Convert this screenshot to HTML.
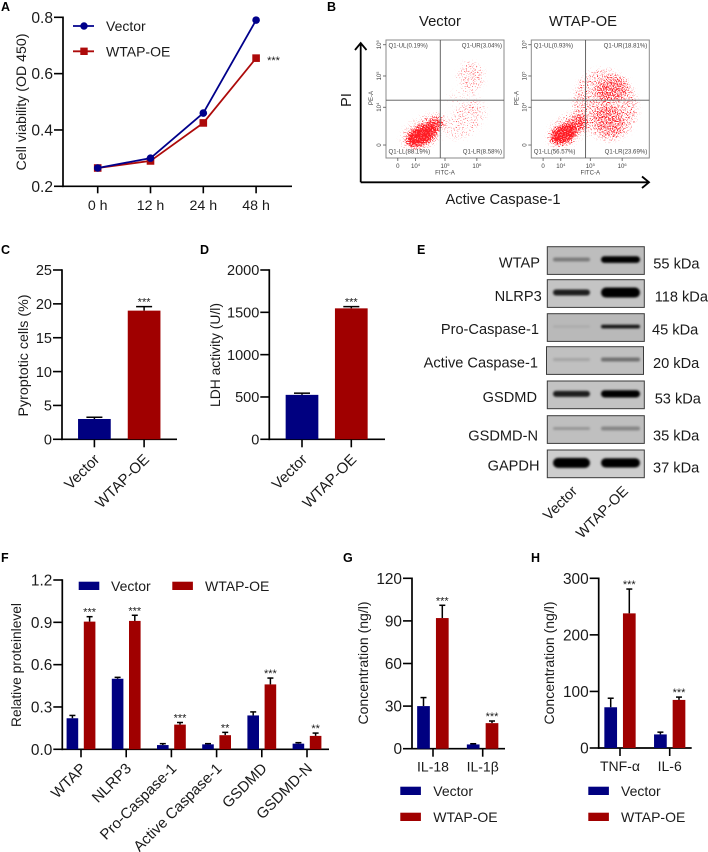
<!DOCTYPE html>
<html lang="en">
<head>
<meta charset="utf-8">
<title>WTAP-OE figure</title>
<style>
html,body{margin:0;padding:0;background:#fff}
svg{display:block}
text{font-family:"Liberation Sans",Arial,sans-serif;fill:#1a1a1a}
.letter{font-weight:bold;font-size:12.5px;fill:#000}
.title{font-size:14px}
.tiny{font-size:6.1px;fill:#444}
</style>
</head>
<body>
<svg id="fig" xmlns="http://www.w3.org/2000/svg" width="708" height="852" viewBox="0 0 708 852">
<defs>
<filter id="speckle" x="0" y="0" width="100%" height="100%" color-interpolation-filters="sRGB">
<feGaussianBlur in="SourceAlpha" stdDeviation="2.6" result="d"/>
<feTurbulence type="fractalNoise" baseFrequency="0.8" numOctaves="2" seed="7" result="t"/>
<feColorMatrix in="t" type="matrix" values="0 0 0 0 0  0 0 0 0 0  0 0 0 0 0  2.2 0 0 0 -0.55" result="n"/>
<feComposite in="d" in2="n" operator="arithmetic" k1="0" k2="1" k3="1" k4="-1" result="m"/>
<feComponentTransfer in="m" result="a"><feFuncA type="linear" slope="3.2"/></feComponentTransfer>
<feFlood flood-color="#ff1c24"/>
<feComposite in2="a" operator="in"/>
</filter>
<filter id="band-blur" x="-30%" y="-150%" width="160%" height="400%"><feGaussianBlur stdDeviation="1.1"/></filter>
<clipPath id="flow-clip-left"><rect x="386" y="40" width="118" height="118"/></clipPath>
<clipPath id="flow-clip-right"><rect x="531.3" y="40" width="118" height="118"/></clipPath>
</defs>

<text class="letter" x="1" y="11">A</text>
<text class="letter" x="327" y="11">B</text>
<text class="letter" x="1" y="254">C</text>
<text class="letter" x="200" y="254">D</text>
<text class="letter" x="417" y="254">E</text>
<text class="letter" x="1" y="562">F</text>
<text class="letter" x="343" y="562">G</text>
<text class="letter" x="531" y="562">H</text>

<text class="title" transform="translate(26 102) rotate(-90)" text-anchor="middle" textLength="137" lengthAdjust="spacingAndGlyphs">Cell viability (OD 450)</text>
<text class="title" transform="translate(28 355.5) rotate(-90)" text-anchor="middle" textLength="122" lengthAdjust="spacingAndGlyphs">Pyroptotic cells (%)</text>
<text class="title" transform="translate(220 355) rotate(-90)" text-anchor="middle" textLength="104" lengthAdjust="spacingAndGlyphs">LDH activity (U/l)</text>
<text class="title" transform="translate(21 665) rotate(-90)" text-anchor="middle" textLength="124" lengthAdjust="spacingAndGlyphs">Relative proteinlevel</text>
<text class="title" transform="translate(368 663) rotate(-90)" text-anchor="middle" textLength="123" lengthAdjust="spacingAndGlyphs">Concentration (ng/l)</text>
<text class="title" transform="translate(554 663) rotate(-90)" text-anchor="middle" textLength="123" lengthAdjust="spacingAndGlyphs">Concentration (ng/l)</text>

<text x="440" y="26" font-size="14.8" text-anchor="middle">Vector</text>
<text x="583" y="26" font-size="14.8" text-anchor="middle">WTAP-OE</text>
<text transform="translate(351 100) rotate(-90)" font-size="14.5" text-anchor="middle">PI</text>
<text x="503" y="204" font-size="14.7" text-anchor="middle">Active Caspase-1</text>
<g fill="none" stroke="#000" stroke-width="1.8">
<path d="M360.7 182.3V43M355 50L360.7 43L366.5 50"/>
<path d="M360.7 182.3H649M642 176.5L649 182.3L642 188"/>
</g>
<g id="flow"></g>

<g id="blots"></g>
<text transform="rotate(-45 578 492)" x="578" y="492" font-size="14.5" text-anchor="end">Vector</text>
<text transform="rotate(-45 629 492)" x="629" y="492" font-size="14.5" text-anchor="end">WTAP-OE</text>

<g id="chart-a"></g>
<g>
<line x1="73" x2="94" y1="26" y2="26" stroke="#00008b" stroke-width="1.8"/><circle cx="84" cy="26" r="3.7" fill="#00008b"/>
<text x="106" y="31" font-size="14">Vector</text>
<line x1="73" x2="94" y1="51.3" y2="51.3" stroke="#ad0a0a" stroke-width="1.8"/><rect x="80.3" y="47.6" width="7.4" height="7.4" fill="#ad0a0a"/>
<text x="106" y="56.3" font-size="14">WTAP-OE</text>
</g>

<g id="chart-c"></g>
<g id="chart-d"></g>
<g id="chart-f"></g>
<g id="chart-g"></g>
<g id="chart-h"></g>

<g>
<rect x="78.7" y="581.7" width="20.6" height="8.3" fill="#000080"/>
<text x="111" y="591" font-size="14">Vector</text>
<rect x="172.3" y="581.7" width="20.6" height="8.3" fill="#a00000"/>
<text x="205" y="591" font-size="14">WTAP-OE</text>
</g>
<g>
<rect x="400.3" y="786.7" width="20.6" height="8.3" fill="#000080"/>
<text x="433.3" y="796" font-size="14">Vector</text>
<rect x="400.3" y="812.7" width="20.6" height="8.3" fill="#a00000"/>
<text x="433.3" y="822" font-size="14">WTAP-OE</text>
</g>
<g>
<rect x="588.3" y="786.7" width="20.6" height="8.3" fill="#000080"/>
<text x="621" y="796" font-size="14">Vector</text>
<rect x="588.3" y="812.7" width="20.6" height="8.3" fill="#a00000"/>
<text x="621" y="822" font-size="14">WTAP-OE</text>
</g>
</svg>

<script>
// Panel A
const aCategories = ['0 h', '12 h', '24 h', '48 h'];
const aVector = [0.265, 0.30, 0.46, 0.79];
const aWtap = [0.265, 0.29, 0.425, 0.655];
const aTicks = [0.2, 0.4, 0.6, 0.8];
const aTickLabels = ['0.2', '0.4', '0.6', '0.8'];

// Panel C
const cCategories = ['Vector', 'WTAP-OE'];
const cValues = [3.0, 19.0];
const cErrors = [0.25, 0.6];
const cStars = ['', '***'];
const cTicks = [0, 5, 10, 15, 20, 25];

// Panel D
const dCategories = ['Vector', 'WTAP-OE'];
const dValues = [525, 1547];
const dErrors = [20, 20];
const dStars = ['', '***'];
const dTicks = [0, 500, 1000, 1500, 2000];

// Panel F
const fCategories = ['WTAP', 'NLRP3', 'Pro-Caspase-1', 'Active Caspase-1', 'GSDMD', 'GSDMD-N'];
const fVector = [0.22, 0.50, 0.03, 0.035, 0.24, 0.04];
const fVectorErr = [0.02, 0.01, 0.01, 0.005, 0.025, 0.007];
const fWtap = [0.905, 0.91, 0.175, 0.10, 0.46, 0.095];
const fWtapErr = [0.035, 0.04, 0.015, 0.02, 0.045, 0.02];
const fStars = ['***', '***', '***', '**', '***', '**'];
const fTicks = [0, 0.3, 0.6, 0.9, 1.2];
const fTickLabels = ['0.0', '0.3', '0.6', '0.9', '1.2'];

// Panel G
const gCategories = ['IL-18', 'IL-1β'];
const gVector = [30, 3];
const gVectorErr = [6, 0.5];
const gWtap = [92, 18];
const gWtapErr = [9, 1.5];
const gStars = ['***', '***'];
const gTicks = [0, 30, 60, 90, 120];

// Panel H
const hCategories = ['TNF-α', 'IL-6'];
const hVector = [72, 24];
const hVectorErr = [16, 4];
const hWtap = [238, 85];
const hWtapErr = [43, 5];
const hStars = ['***', '***'];
const hTicks = [0, 100, 200, 300];

// Panel B: quadrant read-outs and density regions, in axis units (0-100)
const flowVectorQuadrants = ['Q1-UL(0.19%)', 'Q1-UR(3.04%)', 'Q1-LL(88.19%)', 'Q1-LR(8.58%)'];
const flowWtapQuadrants = ['Q1-UL(0.93%)', 'Q1-UR(18.81%)', 'Q1-LL(56.57%)', 'Q1-LR(23.69%)'];
const flowVectorClusters = [[30,19,14,8,-28,1],[39,27,11,6,-30,0.62],[32,22,22,13,-32,0.24],[68,32,20,12,-40,0.22],[72,69,11,13,-10,0.27],[65,50,14,9,0,0.1]];
const flowWtapClusters = [[27,20,11,7.5,-28,1],[36,27,11,6.5,-32,0.6],[31,24,20,13,-35,0.24],[66,32,12,14,-30,0.36],[68,58,14,10,-10,0.4],[63,45,27,31,-20,0.32]];

// Panel E: band darkness per lane, and band half-height
const blotTargets = ['WTAP', 'NLRP3', 'Pro-Caspase-1', 'Active Caspase-1', 'GSDMD', 'GSDMD-N', 'GAPDH'];
const blotSizes = ['55 kDa', '118 kDa', '45 kDa', '20 kDa', '53 kDa', '35 kDa', '37 kDa'];
const blotVector = [0.35, 0.85, 0.08, 0.14, 0.85, 0.22, 1];
const blotWtap = [1, 1, 0.9, 0.42, 1, 0.3, 1];
const blotThicknessVector = [2, 3, 1.2, 1.6, 3, 1.5, 5];
const blotThicknessWtap = [3.3, 5, 1.8, 2, 3.6, 2, 4.6];

const SVGNS = 'http://www.w3.org/2000/svg';
function mk(parent, tag, attrs, content) {
  const el = document.createElementNS(SVGNS, tag);
  for (const k in attrs) el.setAttribute(k, attrs[k]);
  if (content !== undefined) el.textContent = content;
  parent.appendChild(el);
  return el;
}
function label(el, name, interactable) {
  
  
  return el;
}
function slug(s) { return String(s).toLowerCase().replace(/[^a-z0-9]+/g, '-'); }

function axes(g, p, y, ticks, tickLabels, fs) {
  const yAxis = mk(g, 'line', {x1: p.x0, x2: p.x0, y1: p.yTop - 0.8, y2: p.yBot + 0.8, stroke: '#000', 'stroke-width': 1.7});
  label(yAxis, 'y-axis', 'false');
  const xAxis = mk(g, 'line', {x1: p.x0 - 0.8, x2: p.x1, y1: p.yBot, y2: p.yBot, stroke: '#000', 'stroke-width': 1.7});
  label(xAxis, 'x-axis', 'false');
  ticks.forEach((t, i) => {
    const tickLine = mk(g, 'line', {x1: p.x0 - 9, x2: p.x0, y1: y(t), y2: y(t), stroke: '#000', 'stroke-width': 1.6});
    label(tickLine, 'y-tick', 'false');
    const tickText = mk(g, 'text', {x: p.x0 - 10, y: y(t) + fs * 0.36, 'text-anchor': 'end', 'font-size': fs}, tickLabels ? tickLabels[i] : t);
    label(tickText, 'y-tick-label', 'false');
  });
}

function barPanel(g, p) {
  const y = v => p.yBot - (v / p.max) * (p.yBot - p.yTop);
  const x = i => p.first + i * p.step;
  axes(g, p, y, p.ticks, p.tickLabels, p.fs);
  p.series.forEach(s => {
    s.values.forEach((v, i) => {
      const cx = x(i) + s.offset;
      const top = y(v + s.errors[i]);
      const stem = mk(g, 'line', {x1: cx, x2: cx, y1: top, y2: y(v), stroke: '#000', 'stroke-width': 1.5});
      label(stem, 'error-bar', 'false');
      const cap = mk(g, 'line', {x1: cx - p.cap, x2: cx + p.cap, y1: top, y2: top, stroke: '#000', 'stroke-width': 1.5});
      label(cap, 'error-cap', 'false');
      const bar = mk(g, 'rect', {x: cx - p.barW / 2, y: y(v), width: p.barW, height: p.yBot - y(v), fill: s.colors ? s.colors[i] : s.color});
      label(bar, 'bar-' + slug(p.cats[i]) + '-' + s.key, 'false');
      const star = s.stars && s.stars[i];
      if (star) {
        const st = mk(g, 'text', {x: cx, y: top - 1, 'text-anchor': 'middle', 'font-size': 11}, star);
        label(st, 'significance-marker', 'false');
      }
    });
  });
  p.cats.forEach((c, i) => {
    const tk = mk(g, 'line', {x1: x(i), x2: x(i), y1: p.yBot, y2: p.yBot + 8, stroke: '#000', 'stroke-width': 1.6});
    label(tk, 'x-tick', 'false');
    let t;
    if (p.rotate) {
      const lx = x(i) + 6, ly = p.yBot + p.rotDy;
      t = mk(g, 'text', {x: lx, y: ly, 'text-anchor': 'end', 'font-size': p.catFs, transform: 'rotate(-45 ' + lx + ' ' + ly + ')'}, c);
    } else {
      t = mk(g, 'text', {x: x(i), y: p.yBot + 23, 'text-anchor': 'middle', 'font-size': p.catFs}, c);
    }
    label(t, 'x-tick-label', 'false');
  });
}

// Panel A
(function () {
  const g = document.getElementById('chart-a');
  const p = {x0: 63, x1: 292, yTop: 17.3, yBot: 186.3};
  const y = v => p.yBot - ((v - 0.2) / 0.6) * (p.yBot - p.yTop);
  const x = i => 97.7 + i * 52.8;
  axes(g, p, y, aTicks, aTickLabels, 15.6);
  aCategories.forEach((c, i) => {
    const tk = mk(g, 'line', {x1: x(i), x2: x(i), y1: p.yBot, y2: p.yBot + 7, stroke: '#000', 'stroke-width': 1.6});
    label(tk, 'x-tick', 'false');
    const t = mk(g, 'text', {x: x(i), y: 210, 'text-anchor': 'middle', 'font-size': 14.2}, c);
    label(t, 'x-tick-label', 'false');
  });
  const redLine = mk(g, 'polyline', {points: aWtap.map((v, i) => x(i) + ',' + y(v)).join(' '), fill: 'none', stroke: '#ad0a0a', 'stroke-width': 1.8});
  label(redLine, 'line-wtap-oe', 'false');
  aWtap.forEach((v, i) => {
    const m = mk(g, 'rect', {x: x(i) - 3.8, y: y(v) - 3.8, width: 7.6, height: 7.6, fill: '#ad0a0a'});
    label(m, 'point-wtap-oe', 'false');
  });
  const blueLine = mk(g, 'polyline', {points: aVector.map((v, i) => x(i) + ',' + y(v)).join(' '), fill: 'none', stroke: '#00008b', 'stroke-width': 1.8});
  label(blueLine, 'line-vector', 'false');
  aVector.forEach((v, i) => {
    const m = mk(g, 'circle', {cx: x(i), cy: y(v), r: 3.8, fill: '#00008b'});
    label(m, 'point-vector', 'false');
  });
  const s = mk(g, 'text', {x: x(3) + 11, y: y(aWtap[3]) + 6, 'font-size': 11}, '***');
  label(s, 'significance-marker', 'false');
})();

barPanel(document.getElementById('chart-c'), {x0: 62, x1: 177, yTop: 270, yBot: 439.3, max: 25, ticks: cTicks, fs: 14.5, first: 94.4, step: 49.7, barW: 32.7, cap: 8, cats: cCategories, rotate: true, rotDy: 21, catFs: 15,
  series: [{key: 'single', values: cValues, errors: cErrors, colors: ['#000080', '#a00000'], offset: 0, stars: cStars}]});
barPanel(document.getElementById('chart-d'), {x0: 269.3, x1: 385, yTop: 270, yBot: 439.3, max: 2000, ticks: dTicks, fs: 14.5, first: 302, step: 49.3, barW: 32.7, cap: 8, cats: dCategories, rotate: true, rotDy: 21, catFs: 15,
  series: [{key: 'single', values: dValues, errors: dErrors, colors: ['#000080', '#a00000'], offset: 0, stars: dStars}]});
barPanel(document.getElementById('chart-f'), {x0: 62.3, x1: 329, yTop: 580, yBot: 749.3, max: 1.2, ticks: fTicks, tickLabels: fTickLabels, fs: 15.4, first: 81, step: 45.2, barW: 11.6, cap: 3, cats: fCategories, rotate: true, rotDy: 20, catFs: 15,
  series: [{key: 'vector', values: fVector, errors: fVectorErr, color: '#000080', offset: -8.6},
           {key: 'wtap-oe', values: fWtap, errors: fWtapErr, color: '#a00000', offset: 8.6, stars: fStars}]});
barPanel(document.getElementById('chart-g'), {x0: 412, x1: 505, yTop: 578.3, yBot: 748.7, max: 120, ticks: gTicks, fs: 15.4, first: 433, step: 49.7, barW: 12.7, cap: 3, cats: gCategories, catFs: 14,
  series: [{key: 'vector', values: gVector, errors: gVectorErr, color: '#000080', offset: -9.5},
           {key: 'wtap-oe', values: gWtap, errors: gWtapErr, color: '#a00000', offset: 9.3, stars: gStars}]});
barPanel(document.getElementById('chart-h'), {x0: 598.7, x1: 691.7, yTop: 578.3, yBot: 748, max: 300, ticks: hTicks, fs: 15.4, first: 620, step: 49.7, barW: 12.7, cap: 3, cats: hCategories, catFs: 14,
  series: [{key: 'vector', values: hVector, errors: hVectorErr, color: '#000080', offset: -9.3},
           {key: 'wtap-oe', values: hWtap, errors: hWtapErr, color: '#a00000', offset: 9.3, stars: hStars}]});

// Panel B
function flowPlot(root, left, clipId, clusters, quads, key) {
  const top = 40, size = 118;
  const fx = u => left + (u / 100) * size;
  const fy = v => top + size - (v / 100) * size;
  const wrap = mk(root, 'g', {'clip-path': 'url(#' + clipId + ')'});
  label(wrap, 'scatter-clip-' + key, 'false');
  const cloud = mk(wrap, 'g', {filter: 'url(#speckle)'});
  label(cloud, 'scatter-cloud-' + key, 'false');
  clusters.forEach(c => {
    const e = mk(cloud, 'ellipse', {cx: fx(c[0]), cy: fy(c[1]), rx: c[2] * size / 100, ry: c[3] * size / 100, 'fill-opacity': c[5], transform: 'rotate(' + c[4] + ' ' + fx(c[0]) + ' ' + fy(c[1]) + ')'});
    label(e, 'scatter-density-region', 'false');
  });
  const frame = mk(root, 'rect', {x: left, y: top, width: size, height: size, fill: 'none', stroke: '#8a8a8a', 'stroke-width': 1});
  label(frame, 'plot-frame-' + key, 'false');
  const vLine = mk(root, 'line', {x1: fx(46), x2: fx(46), y1: top, y2: top + size, stroke: '#555', 'stroke-width': 0.9});
  label(vLine, 'quadrant-line-vertical', 'false');
  const hLine = mk(root, 'line', {x1: left, x2: left + size, y1: fy(49), y2: fy(49), stroke: '#555', 'stroke-width': 0.9});
  label(hLine, 'quadrant-line-horizontal', 'false');
  const pos = [[left + 2.5, 47.3, 'start'], [left + size - 2, 47.3, 'end'], [left + 2.5, 153.3, 'start'], [left + size - 2, 153.3, 'end']];
  quads.forEach((q, i) => {
    const t = mk(root, 'text', {x: pos[i][0], y: pos[i][1], 'text-anchor': pos[i][2], class: 'tiny'}, q);
    label(t, 'quadrant-label', 'false');
  });
  const xT = [[10, '0', ''], [25, '10', '4'], [50, '10', '5'], [77, '10', '6']];
  xT.forEach(d => {
    const tk = mk(root, 'line', {x1: fx(d[0]), x2: fx(d[0]), y1: top + size, y2: top + size + 3, stroke: '#555', 'stroke-width': 0.8});
    label(tk, 'flow-x-tick', 'false');
    const t = mk(root, 'text', {x: fx(d[0]), y: 168, 'text-anchor': 'middle', class: 'tiny'}, d[1]);
    label(t, 'flow-x-tick-label', 'false');
    if (d[2]) {
      const sup = mk(t, 'tspan', {dy: -2, 'font-size': 4}, d[2]);
      label(sup, 'flow-tick-exponent', 'false');
    }
  });
  const yT = [[11, '0', ''], [43, '10', '4'], [69.5, '10', '5'], [96, '10', '6']];
  yT.forEach(d => {
    const tk = mk(root, 'line', {x1: left - 3, x2: left, y1: fy(d[0]), y2: fy(d[0]), stroke: '#555', 'stroke-width': 0.8});
    label(tk, 'flow-y-tick', 'false');
    const t = mk(root, 'text', {transform: 'translate(' + (left - 5) + ' ' + fy(d[0]) + ') rotate(-90)', 'text-anchor': 'middle', class: 'tiny'}, d[1]);
    label(t, 'flow-y-tick-label', 'false');
    if (d[2]) {
      const sup = mk(t, 'tspan', {dy: -2, 'font-size': 4}, d[2]);
      label(sup, 'flow-tick-exponent', 'false');
    }
  });
  const xl = mk(root, 'text', {x: fx(50), y: 174.5, 'text-anchor': 'middle', class: 'tiny'}, 'FITC-A');
  label(xl, 'flow-fitc-label', 'false');
  const yl = mk(root, 'text', {transform: 'translate(' + (left - 13) + ' 98) rotate(-90)', 'text-anchor': 'middle', class: 'tiny'}, 'PE-A');
  label(yl, 'flow-pe-label', 'false');
}
const flowRoot = document.getElementById('flow');
flowPlot(flowRoot, 386, 'flow-clip-left', flowVectorClusters, flowVectorQuadrants, 'vector');
flowPlot(flowRoot, 531.3, 'flow-clip-right', flowWtapClusters, flowWtapQuadrants, 'wtap-oe');

// Panel E
(function () {
  const g = document.getElementById('blots');
  const rowTop = [246.7, 279.7, 313.7, 346.7, 381, 415.7, 450];
  const rowH = 27.7;
  const bg = ['#bdbdbd', '#c4c4c4', '#b9b9b9', '#c0c0c0', '#c3c3c3', '#bfbfbf', '#cdcdcd'];
  const labelRight = [540, 541.7, 539, 538, 537, 538, 539.5];
  const labelBase = [267.7, 301, 334, 367.3, 402, 440.7, 470.7];
  const sizeLeft = [653.3, 654.7, 652, 653, 654.7, 653, 653];
  const sizeBase = [268.3, 301.7, 334.7, 368, 403.3, 440.7, 472.7];
  blotTargets.forEach((name, i) => {
    const lx = i === 3 ? 546.5 : 547.3;
    const box = mk(g, 'rect', {x: lx, y: rowTop[i], width: 97, height: rowH, fill: bg[i], stroke: '#3a3a3a', 'stroke-width': 1});
    label(box, 'blot-row-' + slug(name), 'false');
    const cy = rowTop[i] + rowH / 2 - 1;
    const bands = [[blotVector[i], 571.5, 18.5, blotThicknessVector[i]], [blotWtap[i], 620.5, 19.5, blotThicknessWtap[i]]];
    bands.forEach(b => {
      const e = mk(g, 'rect', {x: b[1] - b[2], y: cy - b[3], width: b[2] * 2, height: b[3] * 2, rx: b[3], ry: b[3], fill: '#050505', 'fill-opacity': b[0], filter: 'url(#band-blur)'});
      label(e, 'blot-band', 'false');
    });
    const t = mk(g, 'text', {x: labelRight[i], y: labelBase[i], 'text-anchor': 'end', 'font-size': 14.6}, name);
    label(t, 'blot-label', 'false');
    const s = mk(g, 'text', {x: sizeLeft[i], y: sizeBase[i], 'font-size': 14.6}, blotSizes[i]);
    label(s, 'blot-size-label', 'false');
  });
})();
</script>
</body>
</html>
